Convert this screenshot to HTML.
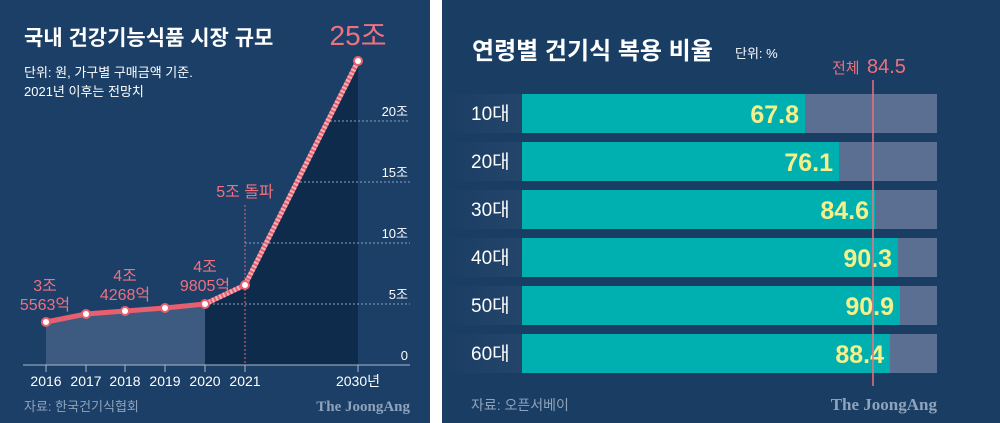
<!DOCTYPE html>
<html><head><meta charset="utf-8"><style>
html,body{margin:0;padding:0;background:#fff;}
body{width:1000px;height:423px;position:relative;overflow:hidden;font-family:"Liberation Sans","Noto Sans CJK KR",sans-serif;}
</style></head><body>
<svg width="1000" height="423" viewBox="0 0 1000 423" style="position:absolute;left:0;top:0" font-family="Liberation Sans, Noto Sans CJK KR, sans-serif">
<defs>
<linearGradient id="lg" x1="0" x2="1"><stop offset="0" stop-color="#1a3d63" stop-opacity="1"/><stop offset="1" stop-color="#5a6f92"/></linearGradient>
</defs>
<!-- LEFT PANEL -->
<rect x="0" y="0" width="430" height="423" fill="#1b3f67"/>
<text x="24" y="45" fill="#fff" font-size="21" font-weight="bold">국내 건강기능식품 시장 규모</text>
<text x="24" y="77" fill="#fff" font-size="13">단위: 원, 가구별 구매금액 기준.</text>
<text x="24" y="96" fill="#fff" font-size="13">2021년 이후는 전망치</text>
<polygon points="46,322 86,314 125,311 165,308 205,304 205,365 46,365" fill="#3d5a80"/>
<polygon points="205,304 245,285 358,61 358,365 205,365" fill="#0f2b4c"/>
<g stroke="#8aa0bd" stroke-dasharray="2,2" stroke-width="1">
<line x1="205" y1="304" x2="410" y2="304"/>
<line x1="245" y1="243" x2="410" y2="243"/>
<line x1="300" y1="182" x2="410" y2="182"/>
<line x1="330" y1="121" x2="410" y2="121"/>
</g>
<line x1="245" y1="205" x2="245" y2="365" stroke="#e46a78" stroke-dasharray="2,2" stroke-width="1"/>
<g fill="#fff" font-size="13" text-anchor="end">
<text x="408" y="116">20조</text><text x="408" y="177">15조</text><text x="408" y="238">10조</text><text x="408" y="299">5조</text><text x="408" y="360">0</text>
</g>
<line x1="23" y1="365" x2="410" y2="365" stroke="#aab8cc" stroke-width="1"/>
<g stroke="#aab8cc"><line x1="46" y1="365" x2="46" y2="372"/><line x1="86" y1="365" x2="86" y2="372"/><line x1="125" y1="365" x2="125" y2="372"/><line x1="165" y1="365" x2="165" y2="372"/><line x1="205" y1="365" x2="205" y2="372"/><line x1="245" y1="365" x2="245" y2="372"/><line x1="358" y1="365" x2="358" y2="372"/></g>
<polyline points="46,322 86,314 125,311 165,308 205,304" fill="none" stroke="#e8606f" stroke-width="5"/>
<polyline points="205,304 245,285 358,61" fill="none" stroke="#e8606f" stroke-width="5"/>
<polyline points="205,304 245,285 358,61" fill="none" stroke="#fff" stroke-width="5" stroke-dasharray="2,2" opacity="0.5"/>
<g fill="#fff" stroke="#e8606f" stroke-width="2">
<circle cx="46" cy="322" r="4"/><circle cx="86" cy="314" r="4"/><circle cx="125" cy="311" r="4"/><circle cx="165" cy="308" r="4"/><circle cx="205" cy="304" r="4"/><circle cx="245" cy="285" r="4"/><circle cx="358" cy="61" r="4"/>
</g>
<g fill="#f07080" font-size="16" text-anchor="middle">
<text x="45" y="291">3조</text><text x="45" y="310">5563억</text>
<text x="125" y="281">4조</text><text x="125" y="300">4268억</text>
<text x="205" y="272">4조</text><text x="205" y="291">9805억</text>
<text x="245" y="197">5조 돌파</text>
<text x="358" y="45" font-size="28">25조</text>
</g>
<g fill="#fff" font-size="14" text-anchor="middle">
<text x="46" y="386">2016</text><text x="86" y="386">2017</text><text x="125" y="386">2018</text><text x="165" y="386">2019</text><text x="205" y="386">2020</text><text x="245" y="386">2021</text><text x="358" y="386">2030년</text>
</g>
<text x="24" y="411" fill="#8fa3bd" font-size="13">자료: 한국건기식협회</text>
<text x="410" y="411" fill="#8fa3bd" font-size="15" font-weight="bold" font-family="Liberation Serif, serif" text-anchor="end">The JoongAng</text>
<!-- RIGHT PANEL -->
<rect x="442" y="0" width="558" height="423" fill="#1a3d63"/>
<text x="472" y="59" fill="#fff" font-size="24" font-weight="bold">연령별 건기식 복용 비율</text>
<text x="735" y="58" fill="#fff" font-size="13">단위: %</text>
<text x="832" y="73" fill="#f07080" font-size="15">전체</text>
<text x="867" y="73" fill="#f07080" font-size="20">84.5</text>
<g>
<rect x="442" y="94" width="495" height="39" fill="url(#lg)"/><rect x="522" y="94" width="415" height="39" fill="#5a6f92"/><rect x="522" y="94" width="283" height="39" fill="#00b0b0"/>
<rect x="442" y="142" width="495" height="39" fill="url(#lg)"/><rect x="522" y="142" width="415" height="39" fill="#5a6f92"/><rect x="522" y="142" width="317" height="39" fill="#00b0b0"/>
<rect x="442" y="190" width="495" height="39" fill="url(#lg)"/><rect x="522" y="190" width="415" height="39" fill="#5a6f92"/><rect x="522" y="190" width="353" height="39" fill="#00b0b0"/>
<rect x="442" y="238" width="495" height="39" fill="url(#lg)"/><rect x="522" y="238" width="415" height="39" fill="#5a6f92"/><rect x="522" y="238" width="376" height="39" fill="#00b0b0"/>
<rect x="442" y="286" width="495" height="39" fill="url(#lg)"/><rect x="522" y="286" width="415" height="39" fill="#5a6f92"/><rect x="522" y="286" width="378" height="39" fill="#00b0b0"/>
<rect x="442" y="334" width="495" height="39" fill="url(#lg)"/><rect x="522" y="334" width="415" height="39" fill="#5a6f92"/><rect x="522" y="334" width="368" height="39" fill="#00b0b0"/>
</g>
<g fill="#fff" font-size="19">
<text x="471" y="120">10대</text><text x="471" y="168">20대</text><text x="471" y="216">30대</text><text x="471" y="264">40대</text><text x="471" y="312">50대</text><text x="471" y="360">60대</text>
</g>
<g fill="#f5f08a" font-size="25" font-weight="bold" text-anchor="end">
<text x="799" y="123">67.8</text><text x="833" y="171">76.1</text><text x="869" y="219">84.6</text><text x="892" y="267">90.3</text><text x="894" y="315">90.9</text><text x="884" y="363">88.4</text>
</g>
<line x1="873" y1="80" x2="873" y2="386" stroke="#f07080" stroke-width="1.5"/>
<text x="471" y="410" fill="#8fa3bd" font-size="14">자료: 오픈서베이</text>
<text x="937" y="410" fill="#8fa3bd" font-size="17" font-weight="bold" font-family="Liberation Serif, serif" text-anchor="end">The JoongAng</text>
</svg>
</body></html>
